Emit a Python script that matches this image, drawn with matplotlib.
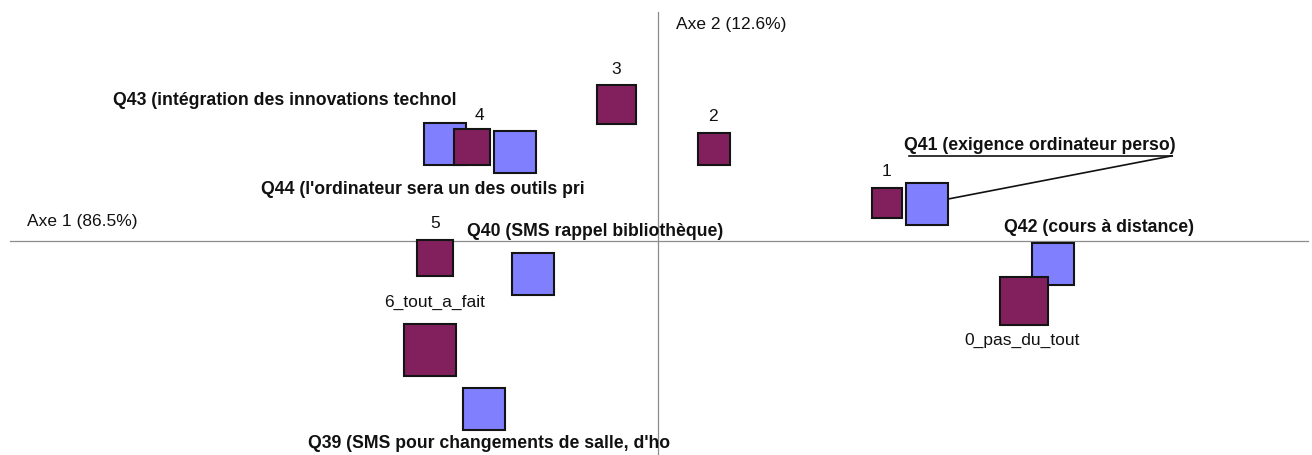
import matplotlib
matplotlib.use("Agg")
import matplotlib.pyplot as plt
from matplotlib.patches import Rectangle
import numpy as np

plt.rcParams['font.family'] = ['Liberation Sans', 'DejaVu Sans']

# Modalities (answer levels)
mod_labels = ["0_pas_du_tout", "1", "2", "3", "4", "5", "6_tout_a_fait"]
mod_x = [0.914, 0.573, 0.140, -0.104, -0.464, -0.558, -0.570]
mod_y = [-0.151, 0.094, 0.231, 0.341, 0.235, -0.043, -0.273]
mod_mass = [0.218, 0.085, 0.097, 0.144, 0.122, 0.122, 0.256]

# Questions
q_labels = ["Q39 (SMS pour changements de salle, d'ho",
            "Q40 (SMS rappel bibliothèque)",
            "Q41 (exigence ordinateur perso)",
            "Q42 (cours à distance)",
            "Q43 (intégration des innovations technol",
            "Q44 (l'ordinateur sera un des outils pri"]
q_x = [-0.435, -0.313, 0.673, 0.988, -0.533, -0.358]
q_y = [-0.419, -0.083, 0.093, -0.058, 0.243, 0.223]
q_mass = [1/6] * 6

axis1_label = "Axe 1 (86.5%)"
axis2_label = "Axe 2 (12.6%)"

W, H, DPI = 1312, 456, 100
fig = plt.figure(figsize=(W / DPI, H / DPI), dpi=DPI)
ax = fig.add_axes([0, 0, 1, 1])
SCALE = 400.0  # pixels per unit
ax.set_xlim(-658 / SCALE, (W - 658) / SCALE)
ax.set_ylim(-(H - 242) / SCALE, 242 / SCALE)
ax.axis('off')

# axes lines
ax.plot([(10 - 658) / SCALE, (1308 - 658) / SCALE], [0, 0], color='#8c8c8c', lw=0.9, zorder=1)
ax.plot([0, 0], [-(H - 242) / SCALE, (242 - 13) / SCALE], color='#8c8c8c', lw=0.9, zorder=1)

ax.text((27 - 658) / SCALE, (242 - 222) / SCALE, axis1_label, fontsize=12.5,
        ha='left', va='center', color='#111111')
ax.text((676 - 658) / SCALE, (242 - 24) / SCALE, axis2_label, fontsize=12.5,
        ha='left', va='center', color='#111111')

BLUE = '#8080ff'
PURPLE = '#82205e'
EDGE = '#141414'
BASE_SIDE = 42 / SCALE


def square(x, y, mass, color):
    side = BASE_SIDE * np.sqrt(6 * mass)
    ax.add_patch(Rectangle((x - side / 2, y - side / 2), side, side,
                           facecolor=color, edgecolor=EDGE, lw=1.5, zorder=3))
    return side


for x, y, m in zip(q_x, q_y, q_mass):
    square(x, y, m, BLUE)
for x, y, m in zip(mod_x, mod_y, mod_mass):
    square(x, y, m, PURPLE)

# label offsets in pixels (dx, dy) from square center
mod_off = {"0_pas_du_tout": (-2, -38.5), "1": (-1, 32.5), "2": (-1, 33.5),
           "3": (0, 36.5), "4": (7, 33), "5": (0, 36), "6_tout_a_fait": (5, 49)}
q_off = [(5, -33.5), (62, 44), (113, 59), (46, 38), (-160, 44), (-92, -37)]

for lab, x, y in zip(mod_labels, mod_x, mod_y):
    dx, dy = mod_off[lab]
    ax.annotate(lab, (x, y), xytext=(dx, dy), textcoords='offset pixels',
                ha='center', va='center', fontsize=12.5, color='#111111', zorder=5)

for i, (lab, x, y) in enumerate(zip(q_labels, q_x, q_y)):
    dx, dy = q_off[i]
    ax.annotate(lab, (x, y), xytext=(dx, dy), textcoords='offset pixels',
                ha='center', va='center', fontsize=12.7, fontweight='bold',
                color='#111111', zorder=5)

# Q41 underline and leader line
qx, qy = q_x[2], q_y[2]
ux0 = qx + (909 - 927) / SCALE
ux1 = qx + (1172 - 927) / SCALE
uy = qy + (205 - 157) / SCALE
ax.plot([ux0, ux1], [uy, uy], color='#111111', lw=1.2, zorder=4)
ax.plot([ux1, qx + (949 - 927) / SCALE], [uy, qy + (205 - 200) / SCALE],
        color='#111111', lw=1.2, zorder=4)

fig.savefig("out.png", dpi=DPI, facecolor='white')
